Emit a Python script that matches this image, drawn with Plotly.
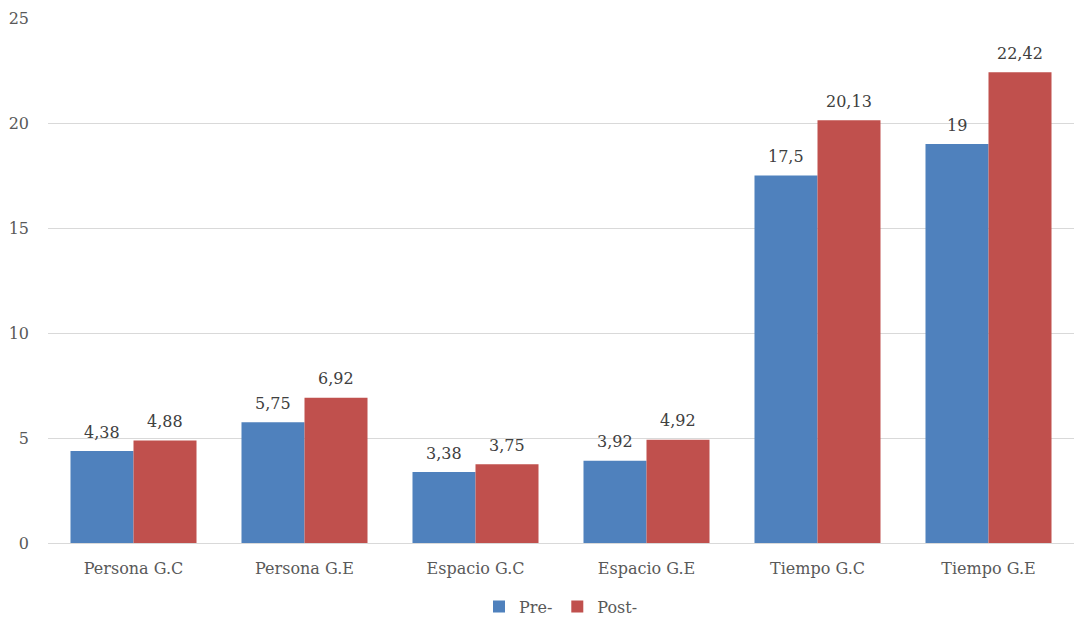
import plotly.graph_objects as go

categories = ["Persona G.C", "Persona G.E", "Espacio G.C", "Espacio G.E", "Tiempo G.C", "Tiempo G.E"]
pre_values = [4.38, 5.75, 3.38, 3.92, 17.5, 19]
post_values = [4.88, 6.92, 3.75, 4.92, 20.13, 22.42]
y_ticks = [0, 5, 10, 15, 20, 25]


def es_label(v):
    return format(v, "g").replace(".", ",")


FONT = "DejaVu Serif"
TEXT_COLOR = "#595959"
BAR_PX = 63  # rendered width of one bar

fig = go.Figure()
fig.add_trace(go.Bar(x=categories, y=pre_values, name="Pre-",
                     marker=dict(color="#4F81BD", line=dict(width=0))))
fig.add_trace(go.Bar(x=categories, y=post_values, name="Post-",
                     marker=dict(color="#C0504D", line=dict(width=0))))

# value labels above each bar
for values, shift in ((pre_values, -BAR_PX / 2), (post_values, BAR_PX / 2)):
    for cat, v in zip(categories, values):
        fig.add_annotation(x=cat, y=v, text=es_label(v), showarrow=False,
                           xshift=shift, yshift=19, yanchor="middle",
                           font=dict(family=FONT, size=16, color="#404040"))

fig.update_layout(
    width=1074, height=619,
    margin=dict(l=48, r=0, t=18, b=76, autoexpand=False),
    paper_bgcolor="white", plot_bgcolor="white",
    barmode="group", bargap=0.263, bargroupgap=0,
    font=dict(family=FONT, size=16, color=TEXT_COLOR),
    showlegend=True,
    legend=dict(orientation="h", x=0.5, xanchor="center", yref="container",
                y=0.02, yanchor="middle",
                font=dict(family=FONT, size=16, color=TEXT_COLOR),
                itemwidth=30, tracegroupgap=0),
)
fig.update_xaxes(showgrid=False, showline=False, ticks="", ticklabelstandoff=14, automargin=False,
                 tickfont=dict(family=FONT, size=16, color=TEXT_COLOR))
fig.update_yaxes(range=[0, 25], tickvals=y_ticks, showgrid=True, gridcolor="#D9D9D9", gridwidth=1,
                 zeroline=True, zerolinecolor="#D9D9D9", zerolinewidth=1, automargin=False,
                 ticks="", ticklabelstandoff=18, tickfont=dict(family=FONT, size=16, color=TEXT_COLOR))

fig.write_html("out.html")
